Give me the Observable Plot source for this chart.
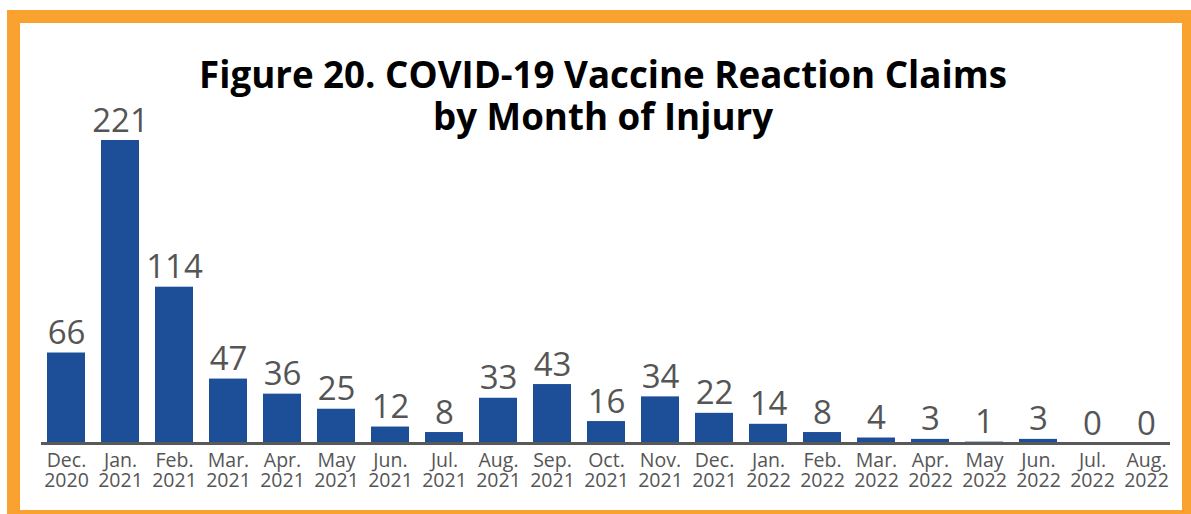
<!DOCTYPE html>
<html>
<head>
<meta charset="utf-8">
<script src="https://cdn.jsdelivr.net/npm/d3@7"></script>
<script src="https://cdn.jsdelivr.net/npm/@observablehq/plot@0.6"></script>
<style>
  html, body { margin: 0; padding: 0; background: #fff; }
  #page { position: relative; width: 1191px; height: 514px; overflow: hidden; background: #fff; font-family: "Open Sans", sans-serif; }
  #frame { position: absolute; left: 7px; top: 10px; width: 1162px; height: 487px; border: 13px solid #F9A230; background: #fff; }
  #title { position: absolute; left: 0; width: 1206px; top: 53px; text-align: center; font-family: "Open Sans", sans-serif; font-weight: 700; font-size: 36.7px; line-height: 42px; color: #000; }
  #chart { position: absolute; left: 0; top: 90px; }
</style>
</head>
<body>
<div id="page">
  <div id="frame"></div>
  <div id="title">Figure 20. COVID-19 Vaccine Reaction Claims<br>by Month of Injury</div>
  <div id="chart"></div>
</div>
<script>
const months = ["Dec.","Jan.","Feb.","Mar.","Apr.","May","Jun.","Jul.","Aug.","Sep.","Oct.","Nov.","Dec.","Jan.","Feb.","Mar.","Apr.","May","Jun.","Jul.","Aug."];
const years = ["2020","2021","2021","2021","2021","2021","2021","2021","2021","2021","2021","2021","2021","2022","2022","2022","2022","2022","2022","2022","2022"];
const claims = [66,221,114,47,36,25,12,8,33,43,16,34,22,14,8,4,3,1,3,0,0];

const categories = months.map((m, i) => m + "\n" + years[i]);
const data = categories.map((c, i) => ({cat: c, value: claims[i]}));

const chart = Plot.plot({
  width: 1191,
  height: 410,
  marginTop: 50,
  marginBottom: 57,
  marginLeft: 41,
  marginRight: 21,
  style: {fontFamily: "'Open Sans', sans-serif", background: "transparent", overflow: "visible"},
  x: {domain: categories, paddingInner: 0.3, paddingOuter: 0.1, label: null},
  y: {domain: [0, 221], axis: null},
  marks: [
    Plot.barY(data, {x: "cat", y: "value", fill: "#1D4E98"}),
    Plot.ruleY([0], {stroke: "#595959", strokeWidth: 3}),
    Plot.text(data, {x: "cat", y: "value", text: d => String(d.value), lineAnchor: "bottom", dy: -9, fontSize: 33, fontWeight: 500, fill: "#555555"}),
    Plot.axisX({tickSize: 0, tickPadding: 9, fontSize: 19.5, lineHeight: 1.03, fontWeight: 500, color: "#555555", label: null, tickFormat: d => d})
  ]
});
document.getElementById("chart").appendChild(chart);
</script>
</body>
</html>
